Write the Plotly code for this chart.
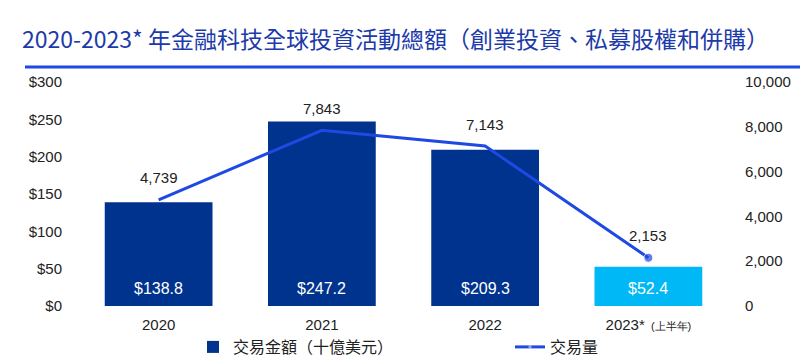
import plotly.graph_objects as go

categories = ["2020", "2021", "2022", "2023*"]
tick_labels = ["2020", "2021", "2022", "2023*<span style='font-size:11px'>  (上半年)</span>"]
deal_value = [138.8, 247.2, 209.3, 52.4]
deal_count = [4739, 7843, 7143, 2153]
value_labels = ["$138.8", "$247.2", "$209.3", "$52.4"]
count_labels = ["4,739", "7,843", "7,143", "2,153"]
bar_colors = ["#00338D", "#00338D", "#00338D", "#00B8F5"]

W, H = 800, 358
L, R, T, B = 77, 70, 82, 52
pw, ph = W - L - R, H - T - B

fig = go.Figure()
fig.add_trace(go.Bar(
    x=categories, y=deal_value, name="交易金額（十億美元）",
    marker=dict(color=bar_colors, line=dict(width=0)),
    yaxis="y", legend="legend", showlegend=True,
))
fig.add_trace(go.Scatter(
    x=categories, y=deal_count, name="交易量", mode="lines+markers",
    line=dict(color="#1E49E2", width=3),
    marker=dict(size=[0, 0, 0, 9], color="#1E49E2"),
    yaxis="y2", legend="legend2", showlegend=True,
))
for i, (v, t) in enumerate(zip(deal_count, count_labels)):
    fig.add_annotation(x=i, xref="x", y=v, yref="y2", text=t, showarrow=False,
                       yshift=22, font=dict(size=15, color="#222", family="Liberation Sans"))
for i, t in enumerate(value_labels):
    fig.add_annotation(x=i, xref="x", y=0, yref="y", text=t, showarrow=False,
                       yanchor="bottom", yshift=7,
                       font=dict(size=16, color="white", family="Liberation Sans"))

# title underline
fig.add_shape(type="line", xref="paper", yref="paper",
              x0=(25 - L) / pw, x1=(800 - L) / pw,
              y0=1 + (T - 67) / ph, y1=1 + (T - 67) / ph,
              line=dict(color="#1E49E2", width=3))

leg_y = -(347 - (T + ph)) / ph
leg_common = dict(orientation="h", xanchor="left", y=leg_y, yanchor="middle",
                  font=dict(size=16, color="#222", family="Noto Sans CJK TC"),
                  bgcolor="rgba(0,0,0,0)")

fig.update_layout(
    width=W, height=H,
    margin=dict(l=L, r=R, t=T, b=B, autoexpand=False),
    paper_bgcolor="white", plot_bgcolor="white",
    showlegend=True,
    title=dict(text="2020-2023* 年金融科技全球投資活動總額（創業投資、私募股權和併購）",
               xref="container", yref="container", x=22 / W, xanchor="left",
               y=1 - 40 / H, yanchor="middle",
               font=dict(size=23, color="#1c3aa9", family="Noto Sans CJK TC")),
    bargap=0.34,
    xaxis=dict(type="category", tickvals=categories, ticktext=tick_labels, showgrid=False,
               showline=False, ticks="", range=[-0.5, 3.5], ticklabelstandoff=8,
               tickfont=dict(size=15, color="#222", family="Liberation Sans")),
    yaxis=dict(range=[0, 300], tickvals=[0, 50, 100, 150, 200, 250, 300],
               ticktext=["$0", "$50", "$100", "$150", "$200", "$250", "$300"],
               showgrid=False, zeroline=False, showline=False, ticklabelstandoff=14,
               tickfont=dict(size=15, color="#222", family="Liberation Sans")),
    yaxis2=dict(range=[0, 10000], overlaying="y", side="right",
                tickvals=[0, 2000, 4000, 6000, 8000, 10000],
                ticktext=["0", "2,000", "4,000", "6,000", "8,000", "10,000"],
                showgrid=False, zeroline=False, showline=False, ticklabelstandoff=14,
                tickfont=dict(size=15, color="#222", family="Liberation Sans")),
    legend=dict(x=(193 - L) / pw, **leg_common),
    legend2=dict(x=(510 - L) / pw, **leg_common),
)
fig.write_html("out.html", config={"displayModeBar": False},
               post_script="document.body.style.margin='0';document.body.style.overflow='hidden';")
